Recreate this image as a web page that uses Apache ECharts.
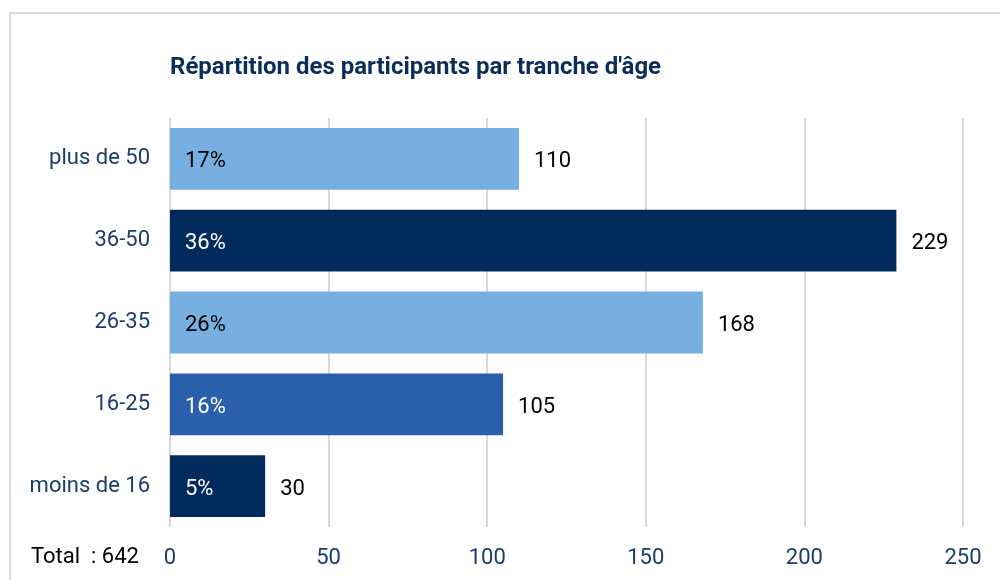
<!DOCTYPE html>
<html><head><meta charset="utf-8">
<script src="https://cdn.jsdelivr.net/npm/echarts@6/dist/echarts.min.js"></script>
<style>html,body{margin:0;padding:0;background:#fff}#c{width:1000px;height:580px}</style>
</head><body><div id="c"></div>
<script>
const categories = ['moins de 16', '16-25', '26-35', '36-50', 'plus de 50'];
const values = [30, 105, 168, 229, 110];
const percents = [5, 16, 26, 36, 17];
const barColors = ['#002b5c', '#2a5fac', '#77b0e0', '#002b5c', '#77b0e0'];
const pctLabelColors = ['#ffffff', '#ffffff', '#000000', '#ffffff', '#000000'];
const xTicks = [0, 50, 100, 150, 200, 250];
const totalText = 'Total  : 642';
const titleText = "Répartition des participants par tranche d'âge";

const FONT = 'Roboto, "Liberation Sans", sans-serif';
const FS = 22;
const chart = echarts.init(document.getElementById('c'));
chart.setOption({
  animation: false,
  title: {
    text: titleText, left: 165, top: 51,
    textStyle: { fontFamily: FONT, fontSize: 24, fontWeight: 'bold', color: '#0c2d5a' }
  },
  graphic: [
    { type: 'rect', shape: { x: 10, y: 13, width: 1010, height: 600 },
      style: { fill: 'none', stroke: '#d9d9d9', lineWidth: 2 }, silent: true, z: -1 },
    { type: 'text', left: 31, top: 546,
      style: { text: totalText, fontFamily: FONT, fontSize: FS, fill: '#000' } }
  ],
  grid: { left: 170, right: 37, top: 118, bottom: 53 },
  xAxis: {
    type: 'value', min: xTicks[0], max: xTicks[xTicks.length - 1], interval: 50,
    axisLine: { show: false }, axisTick: { show: false },
    axisLabel: { fontFamily: FONT, fontSize: FS, color: '#1b3d6d', margin: 20 },
    splitLine: { lineStyle: { color: '#d9d9d9', width: 2 } }
  },
  yAxis: {
    type: 'category', data: categories,
    axisLine: { show: false }, axisTick: { show: false },
    axisLabel: { fontFamily: FONT, fontSize: FS, color: '#1b3d6d', margin: 20, padding: [6, 0, 0, 0] }
  },
  series: [
    {
      type: 'bar', barCategoryGap: '24.5%',
      data: values.map((v, i) => ({
        value: v,
        itemStyle: { color: barColors[i] },
        label: { color: pctLabelColors[i] }
      })),
      label: {
        show: true, position: 'insideLeft', distance: 15, offset: [0, 3],
        fontFamily: FONT, fontSize: FS,
        formatter: p => percents[p.dataIndex] + '%'
      }
    },
    {
      type: 'bar', barGap: '-100%', barCategoryGap: '24.5%',
      data: values,
      itemStyle: { color: 'rgba(0,0,0,0)' },
      label: {
        show: true, position: 'right', distance: 15, offset: [0, 3],
        fontFamily: FONT, fontSize: FS, color: '#000'
      },
      silent: true
    }
  ]
});
</script></body></html>
